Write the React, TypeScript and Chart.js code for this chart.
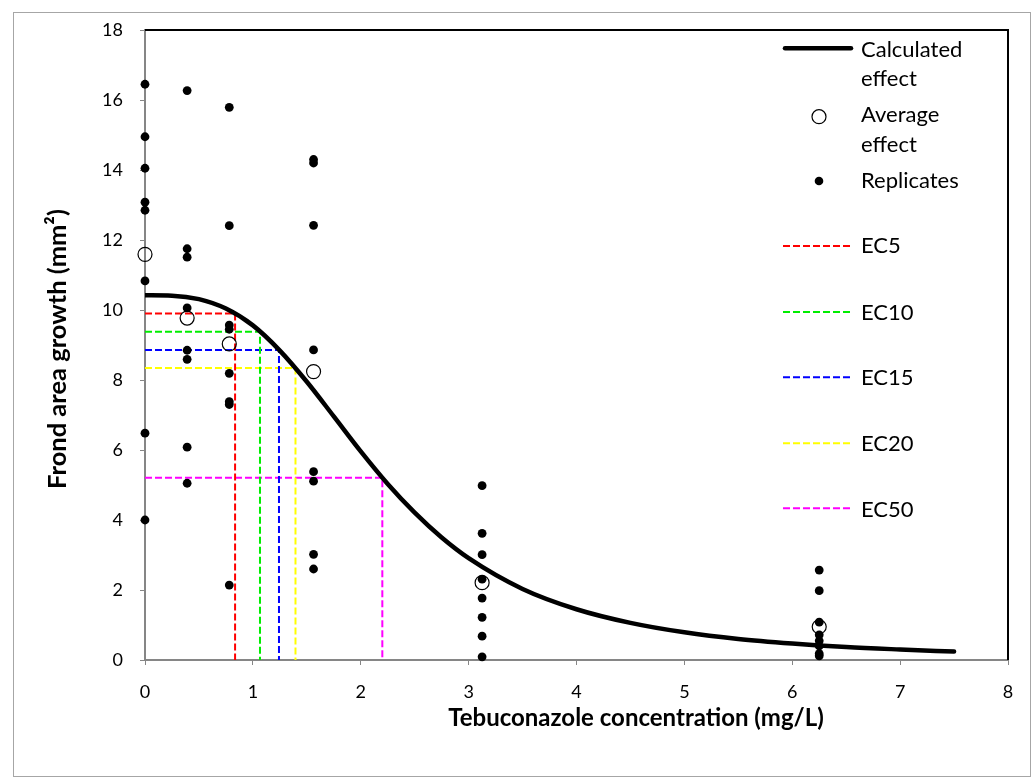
import React, { useEffect, useRef } from 'react';
import { Chart, registerables } from 'chart.js';

Chart.register(...registerables);

// ---------- Data ----------
const concentrations = [0, 0.390625, 0.78125, 1.5625, 3.125, 6.25];
const replicatesC0 = [16.45, 14.95, 14.05, 13.08, 12.85, 10.83, 6.48, 4.0];
const replicatesC1 = [16.27, 11.75, 11.51, 10.06, 8.85, 8.59, 6.08, 5.05];
const replicatesC2 = [15.79, 12.41, 9.57, 9.45, 8.19, 7.38, 7.3, 2.14];
const replicatesC3 = [14.3, 14.2, 12.42, 8.86, 5.38, 5.11, 3.02, 2.6];
const replicatesC4 = [4.98, 3.62, 3.01, 2.31, 1.77, 1.22, 0.68, 0.09];
const replicatesC5 = [2.57, 1.98, 1.08, 0.72, 0.55, 0.4, 0.18, 0.12];
const averageEffect = [11.59, 9.77, 9.03, 8.24, 2.21, 0.95];

const curveConc = [0, 0.25, 0.5, 0.75, 1.0, 1.25, 1.5, 1.75, 2.0, 2.25, 2.5, 2.75, 3.0, 3.5, 4.0, 4.5, 5.0, 5.5, 6.0, 6.5, 7.0, 7.5];
const curveEffect = [10.42, 10.41, 10.31, 10.04, 9.56, 8.84, 7.95, 6.96, 5.96, 5.03, 4.21, 3.5, 2.91, 2.03, 1.45, 1.06, 0.79, 0.6, 0.47, 0.37, 0.3, 0.24];

const ecLabels = ['EC5', 'EC10', 'EC15', 'EC20', 'EC50'];
const ecConc = [0.835, 1.066, 1.242, 1.395, 2.2];
const ecEffect = [9.9, 9.38, 8.86, 8.34, 5.21];

const xTitle = 'Tebuconazole concentration (mg/L)';
const yTitle = 'Frond area growth (mm\u00B2)';

// ---------- Styles ----------
const FONT = 'Lato, "Open Sans", "Liberation Sans", sans-serif';
const EC_COLORS = ['#ff0000', '#00ee00', '#0000ff', '#ffff00', '#ff00ff'];
const AXIS_GREY = '#868686';
const DASH = [7, 3];

const replicateSets = [replicatesC0, replicatesC1, replicatesC2, replicatesC3, replicatesC4, replicatesC5];

const decorPlugin = {
  id: 'decor',
  beforeDraw(chart: any) {
    const ctx = chart.ctx;
    ctx.save();
    ctx.fillStyle = '#ffffff';
    ctx.fillRect(0, 0, chart.width, chart.height);
    ctx.strokeStyle = '#a6a6a6';
    ctx.lineWidth = 1;
    ctx.strokeRect(13.5, 12.5, 1017, 764);
    ctx.restore();
  },
  beforeDatasetsDraw(chart: any) {
    const { ctx, chartArea } = chart;
    ctx.save();
    ctx.strokeStyle = '#000000';
    ctx.lineWidth = 2;
    ctx.beginPath();
    ctx.moveTo(chartArea.left, chartArea.top);
    ctx.lineTo(chartArea.right, chartArea.top);
    ctx.lineTo(chartArea.right, chartArea.bottom);
    ctx.stroke();
    ctx.restore();
  },
  afterDraw(chart: any) {
    const ctx = chart.ctx;
    ctx.save();
    // axis titles
    ctx.fillStyle = '#000';
    ctx.textAlign = 'center';
    ctx.textBaseline = 'middle';
    ctx.font = `bold 24px ${FONT}`;
    ctx.fillText(xTitle, 636, 718);
    ctx.save();
    ctx.font = `bold 25.5px ${FONT}`;
    ctx.translate(58, 349);
    ctx.rotate(-Math.PI / 2);
    ctx.fillText(yTitle, 0, 0);
    ctx.restore();

    // legend
    const lx0 = 783, lx1 = 853, tx = 861;
    ctx.textAlign = 'left';
    ctx.textBaseline = 'alphabetic';
    ctx.font = `22px ${FONT}`;
    // calculated effect
    ctx.strokeStyle = '#000';
    ctx.lineWidth = 4.5;
    ctx.lineCap = 'round';
    ctx.beginPath();
    ctx.moveTo(lx0 + 2, 48.3);
    ctx.lineTo(lx1 - 2, 48.3);
    ctx.stroke();
    ctx.lineCap = 'butt';
    ctx.fillText('Calculated', tx, 56.5);
    ctx.fillText('effect', tx, 85.5);
    // average effect
    ctx.lineWidth = 1.2;
    ctx.beginPath();
    ctx.arc(819, 116.7, 7, 0, Math.PI * 2);
    ctx.stroke();
    ctx.fillText('Average', tx, 122);
    ctx.fillText('effect', tx, 151.5);
    // replicates
    ctx.beginPath();
    ctx.arc(819, 181, 4.3, 0, Math.PI * 2);
    ctx.fill();
    ctx.fillText('Replicates', tx, 188);
    // EC lines
    const ecY = [246, 312, 377.3, 443.3, 508.3];
    const ecBase = [253.3, 320, 385, 450.7, 516.7];
    ecLabels.forEach((lab, i) => {
      ctx.strokeStyle = EC_COLORS[i];
      ctx.lineWidth = 2;
      ctx.setLineDash(DASH);
      ctx.beginPath();
      ctx.moveTo(lx0, ecY[i]);
      ctx.lineTo(lx1, ecY[i]);
      ctx.stroke();
      ctx.setLineDash([]);
      ctx.fillStyle = '#000';
      ctx.fillText(lab, tx, ecBase[i]);
    });
    ctx.restore();
  },
};

export default function App() {
  const canvasRef = useRef<HTMLCanvasElement | null>(null);

  useEffect(() => {
    const canvas = canvasRef.current;
    if (!canvas) return;

    const replicatePoints: { x: number; y: number }[] = [];
    replicateSets.forEach((set, i) => {
      set.forEach((v) => replicatePoints.push({ x: concentrations[i], y: v }));
    });
    const averagePoints = concentrations.map((c, i) => ({ x: c, y: averageEffect[i] }));
    const curvePoints = curveConc.map((c, i) => ({ x: c, y: curveEffect[i] }));

    const ecDatasets = ecLabels.map((lab, i) => ({
      type: 'line' as const,
      label: lab,
      data: [
        { x: 0, y: ecEffect[i] },
        { x: ecConc[i], y: ecEffect[i] },
        { x: ecConc[i], y: 0 },
      ],
      borderColor: EC_COLORS[i],
      borderWidth: 2,
      borderDash: DASH,
      pointRadius: 0,
      tension: 0,
      fill: false,
      showLine: true,
      order: 5,
    }));

    const chart = new Chart(canvas, {
      type: 'scatter',
      data: {
        datasets: [
          {
            label: 'Replicates',
            data: replicatePoints,
            pointRadius: 4.4,
            pointBackgroundColor: '#000',
            pointBorderColor: '#000',
            pointBorderWidth: 0,
            showLine: false,
            clip: false,
            order: 1,
          } as any,
          {
            label: 'Average effect',
            data: averagePoints,
            pointRadius: 7,
            pointBackgroundColor: 'rgba(255,255,255,0)',
            pointBorderColor: '#000',
            pointBorderWidth: 1.2,
            showLine: false,
            clip: false,
            order: 2,
          } as any,
          {
            type: 'line',
            label: 'Calculated effect',
            data: curvePoints,
            borderColor: '#000',
            borderWidth: 4.5,
            pointRadius: 0,
            cubicInterpolationMode: 'monotone',
            fill: false,
            showLine: true,
            borderCapStyle: 'round',
            order: 3,
          } as any,
          ...ecDatasets,
        ],
      },
      options: {
        responsive: false,
        animation: false,
        devicePixelRatio: 1,
        layout: { padding: { top: 30, right: 25, left: 0, bottom: 0 } },
        plugins: {
          legend: { display: false },
          tooltip: { enabled: false },
        },
        scales: {
          x: {
            type: 'linear',
            min: 0,
            max: 8,
            ticks: { stepSize: 1, padding: 16, color: '#000', font: { family: FONT, size: 18 } },
            grid: { drawOnChartArea: false, drawTicks: true, tickLength: 5, tickColor: AXIS_GREY, tickWidth: 1 },
            border: { display: true, color: AXIS_GREY, width: 2 },
            afterFit: (s: any) => {
              s.height = 119;
            },
          },
          y: {
            type: 'linear',
            min: 0,
            max: 18,
            ticks: { stepSize: 2, padding: 17, color: '#000', font: { family: FONT, size: 18 } },
            grid: { drawOnChartArea: false, drawTicks: true, tickLength: 5, tickColor: AXIS_GREY, tickWidth: 1 },
            border: { display: true, color: AXIS_GREY, width: 2 },
            afterFit: (s: any) => {
              s.width = 145;
            },
          },
        },
      } as any,
      plugins: [decorPlugin],
    });

    return () => chart.destroy();
  }, []);

  return (
    <div style={{ position: 'absolute', left: 0, top: 0, width: 1033, height: 779, background: '#fff' }}>
      <canvas ref={canvasRef} width={1033} height={779} style={{ display: 'block', width: 1033, height: 779 }} />
    </div>
  );
}
